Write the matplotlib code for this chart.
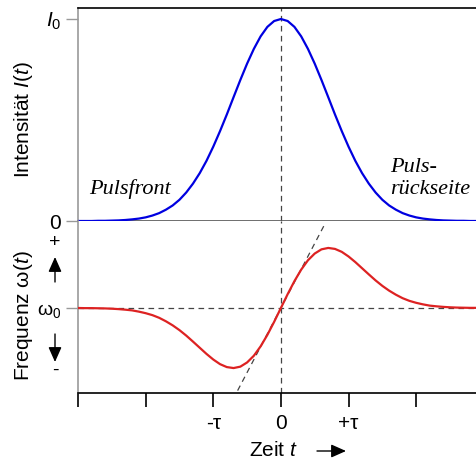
import matplotlib
matplotlib.use("Agg")
import matplotlib.pyplot as plt
from matplotlib.patches import FancyArrowPatch

plt.rcParams['font.family'] = ['Liberation Sans', 'DejaVu Sans']
plt.rcParams['mathtext.fontset'] = 'custom'
plt.rcParams['mathtext.rm'] = 'Liberation Sans'
plt.rcParams['mathtext.it'] = 'Liberation Sans:italic'

# time in units of tau
t = [-3.0, -2.9, -2.8, -2.7, -2.6, -2.5, -2.4, -2.3, -2.2, -2.1, -2.0, -1.9, -1.8, -1.7, -1.6,
     -1.5, -1.4, -1.3, -1.2, -1.1, -1.0, -0.9, -0.8, -0.7, -0.6, -0.5, -0.4, -0.3, -0.2, -0.1,
     0.0, 0.1, 0.2, 0.3, 0.4, 0.5, 0.6, 0.7, 0.8, 0.9, 1.0, 1.1, 1.2, 1.3, 1.4, 1.5, 1.6, 1.7,
     1.8, 1.9, 2.0, 2.1, 2.2, 2.3, 2.4, 2.5, 2.6, 2.7, 2.8, 2.9, 3.0]
# intensity I(t)/I0
intensity = [0.000, 0.000, 0.000, 0.001, 0.001, 0.002, 0.003, 0.005, 0.008, 0.012, 0.018, 0.027,
             0.039, 0.056, 0.077, 0.105, 0.141, 0.185, 0.237, 0.298, 0.368, 0.445, 0.527, 0.613,
             0.698, 0.779, 0.852, 0.914, 0.961, 0.990, 1.000, 0.990, 0.961, 0.914, 0.852, 0.779,
             0.698, 0.613, 0.527, 0.445, 0.368, 0.298, 0.237, 0.185, 0.141, 0.105, 0.077, 0.056,
             0.039, 0.027, 0.018, 0.012, 0.008, 0.005, 0.003, 0.002, 0.001, 0.001, 0.000, 0.000, 0.000]
# frequency deviation omega(t) - omega0
freq = [0.000, -0.001, -0.001, -0.002, -0.003, -0.005, -0.008, -0.012, -0.017, -0.026, -0.037,
        -0.051, -0.070, -0.095, -0.124, -0.158, -0.197, -0.240, -0.284, -0.328, -0.368, -0.401,
        -0.422, -0.429, -0.419, -0.389, -0.341, -0.274, -0.192, -0.099, 0.000, 0.099, 0.192,
        0.274, 0.341, 0.389, 0.419, 0.429, 0.422, 0.401, 0.368, 0.328, 0.284, 0.240, 0.197,
        0.158, 0.124, 0.095, 0.070, 0.051, 0.037, 0.026, 0.017, 0.012, 0.008, 0.005, 0.003,
        0.002, 0.001, 0.001, 0.000]
# tangent (linear chirp) line
tangent_t = [-0.64, 0.65]
tangent_w = [-0.59, 0.60]

xticks = [-3, -2, -1, 0, 1, 2]
xticklabels = ['', '', '-τ', '0', '+τ', '']

W, H = 476, 461
fig = plt.figure(figsize=(W / 100, H / 100), dpi=100)

left = 78 / W
ax1 = fig.add_axes([left, (H - 221) / H, 1 - left, (221 - 8) / H])
ax2 = fig.add_axes([left, (H - 393) / H, 1 - left, (393 - 221) / H])

xlim = (-3.0, (476 - 281) / 67.6)
gray = '#999999'
dash = dict(color='#444444', lw=0.9, ls=(0, (4.5, 3.5)))
tfs = 15

# top panel
ax1.plot(t, intensity, color='#0000e0', lw=1.6, zorder=3)
ax1.axvline(0, **dash)
ax1.set_xlim(*xlim)
ax1.set_ylim(0, (221 - 8) / 202)
ax1.spines['right'].set_visible(False)
ax1.spines['top'].set_color('black')
ax1.spines['top'].set_linewidth(1.2)
ax1.spines['left'].set_color(gray)
ax1.spines['left'].set_linewidth(1.2)
ax1.spines['bottom'].set_color('#555555')
ax1.spines['bottom'].set_linewidth(1.2)
ax1.set_xticks([])
ax1.set_yticks([0, 1])
ax1.set_yticklabels(['0', '$I_0$'])
ax1.tick_params(axis='y', length=9, width=1.0, color=gray, pad=3, labelsize=tfs)
ax1.set_ylabel('Intensität $I(t)$', fontsize=15)

ax1.text(-2.83, 0.135, 'Pulsfront', family='Liberation Serif', style='italic', fontsize=16)
ax1.text(1.62, 0.245, 'Puls-', family='Liberation Serif', style='italic', fontsize=16)
ax1.text(1.62, 0.135, 'rückseite', family='Liberation Serif', style='italic', fontsize=16)

# bottom panel
ax2.plot(t, freq, color='#dd2222', lw=1.6, zorder=3)
ax2.axhline(0, **dash)
ax2.axvline(0, **dash)
ax2.plot(tangent_t, tangent_w, **dash)
ax2.set_xlim(*xlim)
ax2.set_ylim(-(393 - 308) / 140, (308 - 221) / 140)
ax2.spines['right'].set_visible(False)
ax2.spines['top'].set_visible(False)
ax2.spines['left'].set_color(gray)
ax2.spines['left'].set_linewidth(1.2)
ax2.spines['bottom'].set_color('black')
ax2.spines['bottom'].set_linewidth(1.2)
ax2.set_yticks([0])
ax2.set_yticklabels([r'$\mathrm{\omega}_0$'])
ax2.tick_params(axis='y', length=9, width=1.0, color=gray, pad=3, labelsize=14)
ax2.set_xticks(xticks)
ax2.set_xticklabels(xticklabels)
ax2.tick_params(axis='x', length=10, width=1.2, color='black', pad=5, labelsize=tfs)
for i, tk in enumerate(ax2.xaxis.get_major_ticks()):
    if i < 2:
        tk.tick1line.set_color(gray)
ax2.set_ylabel(r'Frequenz $\mathrm{\omega}(t)$', fontsize=15)
ax1.yaxis.set_label_coords(-43 / (W - 78), (221 - 120) / 213)
ax2.yaxis.set_label_coords(-43 / (W - 78), (393 - 316) / 172)

# +/- arrows
fig.text(55 / W, (H - 242) / H, '+', ha='center', va='center', fontsize=14)
fig.text(55 / W, (H - 370) / H, '-', ha='center', va='center', fontsize=14)
ap = dict(arrowstyle='-|>,head_length=0.9,head_width=0.4', color='black', lw=1.0,
          shrinkA=0, shrinkB=0, mutation_scale=10)
fig.add_artist(FancyArrowPatch((55, H - 282), (55, H - 257), transform=None, **ap))
fig.add_artist(FancyArrowPatch((55, H - 334), (55, H - 362), transform=None, **ap))

# x label
fig.text(274 / W, (H - 450) / H, 'Zeit $t$', ha='center', va='center', fontsize=15)
fig.add_artist(FancyArrowPatch((317, H - 451), (346, H - 451), transform=None, **ap))

fig.savefig('out.png', dpi=100)
